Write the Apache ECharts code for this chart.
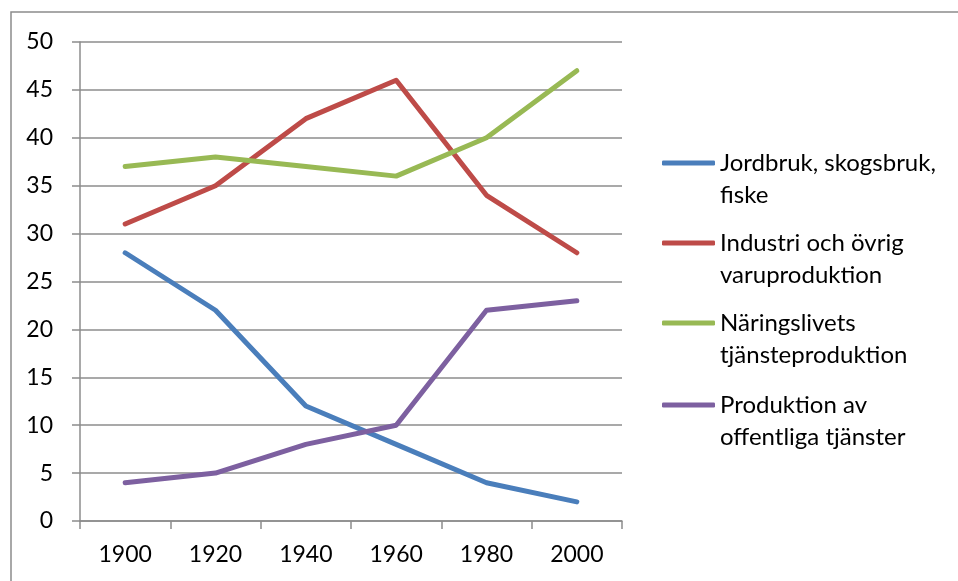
<!DOCTYPE html>
<html>
<head>
<meta charset="utf-8">
<script src="https://cdn.jsdelivr.net/npm/echarts@6/dist/echarts.min.js"></script>
<style>
  html, body { margin: 0; padding: 0; background: #fff; }
  #chart { width: 958px; height: 581px; }
</style>
</head>
<body>
<div id="chart"></div>
<script>
// years on the category axis
var years = ['1900', '1920', '1940', '1960', '1980', '2000'];

// series values (percent of employment)
var jordbruk = [28, 22, 12, 8, 4, 2];
var industri = [31, 35, 42, 46, 34, 28];
var naringsliv = [37, 38, 37, 36, 40, 47];
var offentliga = [4, 5, 8, 10, 22, 23];

var seriesNames = [
    'Jordbruk, skogsbruk, fiske',
    'Industri och övrig varuproduktion',
    'Näringslivets tjänsteproduktion',
    'Produktion av offentliga tjänster'
];
// wrapped legend labels
var legendLabels = [
    'Jordbruk, skogsbruk,\nfiske',
    'Industri och övrig\nvaruproduktion',
    'Näringslivets\ntjänsteproduktion',
    'Produktion av\noffentliga tjänster'
];
var colors = ['#4a7ebb', '#be4b48', '#98b954', '#7d60a0'];

var font = 'Lato';
var gray = '#8c8c8c';

var chart = echarts.init(document.getElementById('chart'));

// one legend per series so each wrapped entry sits where excel put it
function makeLegend(i, top) {
    return {
        orient: 'vertical',
        left: 662,
        top: top,
        padding: 0,
        itemWidth: 53,
        itemHeight: 5,
        icon: 'roundRect',
        data: [seriesNames[i]],
        // blank first line keeps the icon level with the first text line
        formatter: function () { return ' \n' + legendLabels[i]; },
        textStyle: {
            fontFamily: font,
            fontSize: 24,
            color: '#000',
            lineHeight: 32
        }
    };
}

var allData = [jordbruk, industri, naringsliv, offentliga];

var option = {
    animation: false,
    color: colors,
    graphic: [{
        type: 'rect',
        shape: { x: 11, y: 12, width: 1000, height: 1000 },
        style: { fill: 'none', stroke: gray, lineWidth: 1.5 },
        silent: true
    }],
    grid: {
        left: 80,
        right: 336,
        top: 42,
        bottom: 60
    },
    legend: [
        makeLegend(0, 115),
        makeLegend(1, 195),
        makeLegend(2, 275),
        makeLegend(3, 357)
    ],
    xAxis: {
        type: 'category',
        data: years,
        boundaryGap: true,
        axisLine: { show: true, lineStyle: { color: gray, width: 1.5 } },
        axisTick: { show: true, length: 8, lineStyle: { color: gray, width: 1.5 } },
        axisLabel: { fontFamily: font, fontSize: 23, color: '#000', margin: 22 }
    },
    yAxis: {
        type: 'value',
        min: 0,
        max: 50,
        interval: 5,
        axisLine: { show: true, lineStyle: { color: gray, width: 1.5 } },
        axisTick: { show: true, length: 8, lineStyle: { color: gray, width: 1.5 } },
        splitLine: { show: true, lineStyle: { color: gray, width: 1.5 } },
        axisLabel: { fontFamily: font, fontSize: 23, color: '#000', margin: 27 }
    },
    series: seriesNames.map(function (name, i) {
        return {
            name: name,
            type: 'line',
            data: allData[i],
            symbol: 'none',
            lineStyle: { width: 5, color: colors[i], cap: 'round', join: 'round' },
            itemStyle: { color: colors[i] }
        };
    })
};

chart.setOption(option);
</script>
</body>
</html>
